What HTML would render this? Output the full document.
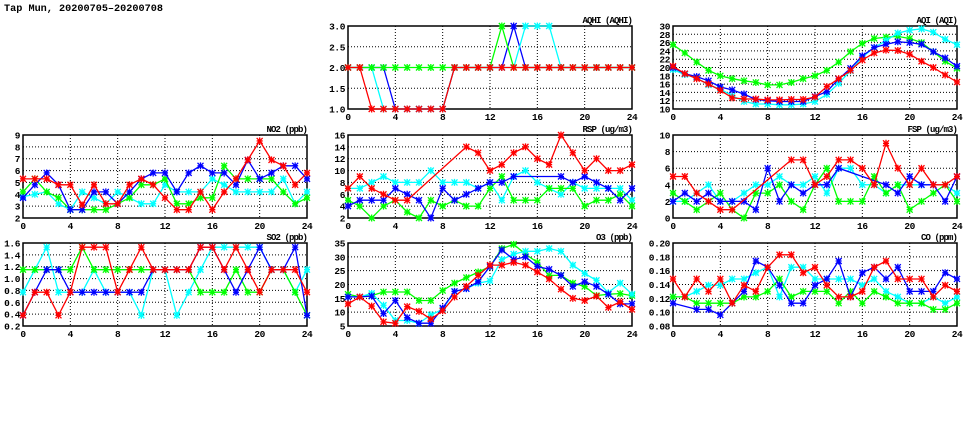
<!DOCTYPE html>
<html><head><meta charset="utf-8">
<style>
html,body{margin:0;padding:0;background:#fff;}
svg{display:block;font-family:"Liberation Mono","DejaVu Sans Mono",monospace;font-weight:bold;}
</style></head>
<body>
<svg id="chart" width="975" height="447" viewBox="0 0 975 447" xmlns="http://www.w3.org/2000/svg">
<text x="4" y="11" font-size="10.2">Tap Mun, 20200705–20200708</text>
</svg>
<script>
const hours = [0,1,2,3,4,5,6,7,8,9,10,11,12,13,14,15,16,17,18,19,20,21,22,23,24];
const xTicks = [0,4,8,12,16,20,24];
const N = null;

const aqhiBlue  = [2,2,2,2,1,1,1,1,1,2,2,2,2,2,3,2,2,2,2,2,2,2,2,2,2];
const aqhiCyan  = [2,2,2,1,1,1,1,1,1,2,2,2,2,2,2,3,3,3,2,2,2,2,2,2,2];
const aqhiGreen = [2,2,2,2,2,2,2,2,2,2,2,2,2,3,2,2,2,2,2,2,2,2,2,2,2];
const aqhiRed   = [2,2,1,1,1,1,1,1,1,2,2,2,2,2,2,2,2,2,2,2,2,2,2,2,2];
const aqhiTicks = [1.0,1.5,2.0,2.5,3.0];

const aqiBlue  = [20,18.5,17.8,16.8,15.3,14.6,13.6,12.3,12,11.8,11.8,11.8,13,14.2,17.2,19.8,22.8,24.8,25.6,26.2,26,25.6,23.8,22.3,20.3];
const aqiCyan  = [19.5,18.3,17.5,15.8,14.8,13.2,11.8,11.2,11.2,11,11,11.2,11.8,13.5,16.2,19.2,22.5,24.8,26.5,28.3,29,29.3,28.5,26.8,25.5];
const aqiGreen = [25.5,23.5,21.3,19.3,18,17.3,16.8,16.4,15.8,15.8,16.4,17.3,18,19.3,21.3,23.8,25.8,27,27.3,27.5,27,26,23.8,21.5,19.8];
const aqiRed   = [20.3,18.5,17.3,16,14.5,12.7,12.4,12.4,12.2,12.2,12.3,12.3,12.9,15.4,17.3,19.3,21.8,23.5,24.2,24.1,23.2,21.5,20,18.2,16.5];
const aqiTicks = [10,12,14,16,18,20,22,24,26,28,30];

const no2Blue  = [3.7,4.8,5.8,4.8,2.7,2.7,4.2,4.2,3.2,4.2,5.3,5.8,5.8,4.2,5.8,6.4,5.8,5.8,4.8,6.9,5.3,5.8,6.4,6.4,5.3];
const no2Cyan  = [3.8,4.0,4.2,3.2,2.7,4.2,3.7,3.2,4.2,3.7,3.2,3.2,4.8,4.2,4.2,4.2,5.3,4.8,4.2,4.2,4.2,4.2,5.3,3.2,4.2];
const no2Green = [4.2,5.3,4.2,3.7,2.7,2.7,2.7,2.7,3.2,3.7,4.8,4.8,5.3,3.2,3.2,3.7,3.7,6.4,5.3,5.3,5.3,5.3,4.2,3.2,3.7];
const no2Red   = [5.3,5.3,5.3,4.8,4.8,3.1,4.8,3.2,3.2,4.8,5.3,4.8,3.7,2.7,2.7,4.2,2.7,4.2,5.3,6.9,8.5,6.9,6.4,4.8,5.8];
const no2Ticks = [2,3,4,5,6,7,8,9];

const rspBlue  = [4,5,5,5,7,6,5,2,7,5,6,7,8,8,9,N,N,N,9,8,9,8,7,5,7];
const rspCyan  = [7,7,8,9,8,8,8,10,8,8,8,7,8,5,9,10,8,7,6,8,7,7,7,7,5];
const rspGreen = [5,4,2,4,5,3,2,5,4,5,4,4,7,9,5,5,5,7,7,7,4,5,5,6,4];
const rspRed   = [7,9,7,6,5,5,N,N,N,N,14,13,10,11,13,14,12,11,16,13,10,12,10,10,11];
const rspTicks = [2,4,6,8,10,12,14,16];

const fspBlue  = [2,3,2,3,2,2,2,1,6,2,4,3,4,4,6,N,N,N,4,3,5,4,4,2,5];
const fspCyan  = [2,2,3,4,2,2,3,4,4,5,4,4,5,3,6,6,4,4,3,4,4,4,4,4,3];
const fspGreen = [3,2,1,2,3,1,0,3,3,4,2,1,4,6,2,2,2,5,3,4,1,2,3,4,2];
const fspRed   = [5,5,3,2,1,1,N,N,N,N,7,7,4,5,7,7,6,4,9,6,4,6,4,4,5];
const fspTicks = [0,2,4,6,8,10];

const so2Blue  = [0.38,0.77,1.15,1.15,0.77,0.77,0.77,0.77,0.77,0.77,0.77,1.15,1.15,1.15,1.15,1.53,1.53,1.15,0.77,1.15,1.53,1.15,1.15,1.53,0.38];
const so2Cyan  = [0.77,1.15,1.53,0.77,0.77,0.77,1.15,0.77,0.77,0.77,0.38,1.15,1.15,0.38,0.77,1.15,1.53,1.53,1.53,1.53,1.53,1.15,1.15,0.77,1.15];
const so2Green = [1.15,1.15,1.15,1.15,1.15,1.53,1.15,1.15,1.15,1.15,1.15,1.15,1.15,1.15,1.15,0.77,0.77,0.77,1.15,0.77,0.77,1.15,1.15,0.77,0.38];
const so2Red   = [0.38,0.77,0.77,0.38,0.77,1.53,1.53,1.53,0.77,1.15,1.53,1.15,1.15,1.15,1.15,1.53,1.53,1.15,1.53,1.15,0.77,1.15,1.15,1.15,0.77];
const so2Ticks = [0.2,0.4,0.6,0.8,1.0,1.2,1.4,1.6];

const o3Blue  = [15.5,15.5,15.8,9.5,14.2,8,6,6,11.5,17.5,18.5,21,26.5,32.5,29,30,26.5,25.5,23.3,19.3,21,19.3,16.5,13,13];
const o3Cyan  = [15.5,15.5,16.8,12.5,7,7,6,9,11,17.5,18.5,20.5,21.3,29,31,32,32,33,32,27,24,21.5,17,20.5,16.5];
const o3Green = [16.5,15.5,16,17.3,17.3,17.3,14.2,14.2,17.8,20.5,22.5,24.5,26.5,33,34.5,31,28,23.3,23.3,20.5,19.3,16,16.5,16.7,16];
const o3Red   = [13,15.5,12.2,6.5,6,12,10.3,7.5,10.5,15.5,19.3,23.3,27,27,28,27,24.5,22,18.3,15,14.2,15.8,11.7,13.7,11];
const o3Ticks = [5,10,15,20,25,30,35];

const coBlue  = [.113,N,.104,.104,.096,.113,.13,.174,.165,.139,.113,.113,.139,.148,.174,.122,.157,.165,.148,.165,.13,.13,.13,.157,.148];
const coCyan  = [.122,.122,.13,.139,.139,.148,.148,.157,.165,.122,.165,.165,.148,.148,.148,.148,.139,.148,.13,.122,.113,.113,.122,.113,.122];
const coGreen = [.122,.122,.113,.113,.113,.113,.122,.122,.13,.148,.122,.13,.13,.13,.113,.13,.113,.13,.122,.113,.113,.113,.104,.104,.113];
const coRed   = [.148,.122,.148,.13,.148,.113,.139,.13,.165,.183,.183,.157,.165,.139,.122,.122,.13,.165,.174,.148,.148,.148,.122,.139,.13];
const coTicks = [0.08,0.10,0.12,0.14,0.16,0.18,0.20];

const panels = [
 {name:'aqhi', title:'AQHI (AQHI)', col:1, row:0, ticks:aqhiTicks, dec:1, series:[aqhiBlue,aqhiCyan,aqhiGreen,aqhiRed]},
 {name:'aqi', title:'AQI (AQI)', col:2, row:0, ticks:aqiTicks, dec:0, series:[aqiGreen,aqiCyan,aqiBlue,aqiRed]},
 {name:'no2', title:'NO2 (ppb)', col:0, row:1, ticks:no2Ticks, dec:0, series:[no2Cyan,no2Green,no2Blue,no2Red]},
 {name:'rsp', title:'RSP (ug/m3)', col:1, row:1, ticks:rspTicks, dec:0, series:[rspCyan,rspGreen,rspBlue,rspRed]},
 {name:'fsp', title:'FSP (ug/m3)', col:2, row:1, ticks:fspTicks, dec:0, series:[fspCyan,fspGreen,fspBlue,fspRed]},
 {name:'so2', title:'SO2 (ppb)', col:0, row:2, ticks:so2Ticks, dec:1, series:[so2Cyan,so2Green,so2Blue,so2Red]},
 {name:'o3', title:'O3 (ppb)', col:1, row:2, ticks:o3Ticks, dec:0, series:[o3Green,o3Cyan,o3Blue,o3Red]},
 {name:'co', title:'CO (ppm)', col:2, row:2, ticks:coTicks, dec:2, series:[coCyan,coGreen,coBlue,coRed]}
];
const colorOf = new Map([[aqhiBlue,'#0000ff'],[aqhiCyan,'#00ffff'],[aqhiGreen,'#00ff00'],[aqhiRed,'#ff0000'],
 [aqiBlue,'#0000ff'],[aqiCyan,'#00ffff'],[aqiGreen,'#00ff00'],[aqiRed,'#ff0000'],
 [no2Blue,'#0000ff'],[no2Cyan,'#00ffff'],[no2Green,'#00ff00'],[no2Red,'#ff0000'],
 [rspBlue,'#0000ff'],[rspCyan,'#00ffff'],[rspGreen,'#00ff00'],[rspRed,'#ff0000'],
 [fspBlue,'#0000ff'],[fspCyan,'#00ffff'],[fspGreen,'#00ff00'],[fspRed,'#ff0000'],
 [so2Blue,'#0000ff'],[so2Cyan,'#00ffff'],[so2Green,'#00ff00'],[so2Red,'#ff0000'],
 [o3Blue,'#0000ff'],[o3Cyan,'#00ffff'],[o3Green,'#00ff00'],[o3Red,'#ff0000'],
 [coBlue,'#0000ff'],[coCyan,'#00ffff'],[coGreen,'#00ff00'],[coRed,'#ff0000']]);
const colName = {'#0000ff':'blue','#00ffff':'cyan','#00ff00':'green','#ff0000':'red'};

const svg = document.getElementById('chart');
const NS = 'http://www.w3.org/2000/svg';
const colX = [23,348,673], rowY = [26,135,243], W = 284, H = 83;
function mk(tag, attrs, parent){const e=document.createElementNS(NS,tag);for(const k in attrs)e.setAttribute(k,attrs[k]);parent.appendChild(e);return e;}

panels.forEach(p=>{
  const x0=colX[p.col], y0=rowY[p.row];
  const lo=p.ticks[0], hi=p.ticks[p.ticks.length-1];
  const sx=v=>x0+v/24*W;
  const sy=v=>y0+H-(v-lo)/(hi-lo)*H;
  const g=mk('g',{},svg);
  
  
  p.ticks.forEach((t,i)=>{
    if(i>0&&i<p.ticks.length-1){
      const l=mk('line',{x1:x0,x2:x0+W,y1:sy(t),y2:sy(t),stroke:'#000','stroke-width':1,'stroke-dasharray':'1,2'},g);
      
      
    }
    const tx=mk('text',{x:x0-3,y:sy(t)+3.5,'font-size':9.5,'letter-spacing':-0.4,'text-anchor':'end'},g);
    
    
    tx.textContent=t.toFixed(p.dec);
  });
  xTicks.forEach((t,i)=>{
    if(i>0&&i<xTicks.length-1){
      const l=mk('line',{x1:sx(t),x2:sx(t),y1:y0,y2:y0+H,stroke:'#000','stroke-width':1,'stroke-dasharray':'1,2'},g);
      
      
    }
    const tx=mk('text',{x:sx(t),y:y0+H+11,'font-size':9.5,'letter-spacing':-0.4,'text-anchor':'middle'},g);
    
    
    tx.textContent=t;
  });
  const fr=mk('rect',{x:x0,y:y0,width:W,height:H,fill:'none',stroke:'#000','stroke-width':1.5},g);
  
  
  const ti=mk('text',{x:x0+W,y:y0-3,'font-size':9,'letter-spacing':-0.9,'text-anchor':'end'},g);
  
  
  ti.textContent=p.title;
  p.series.forEach(arr=>{
    const c=colorOf.get(arr);
    const pts=[];
    arr.forEach((v,i)=>{if(v!==null)pts.push([sx(hours[i]),sy(v)]);});
    const pl=mk('polyline',{points:pts.map(q=>q[0].toFixed(1)+','+q[1].toFixed(1)).join(' '),fill:'none',stroke:c,'stroke-width':1.3},g);
    
    
    pts.forEach(q=>{
      const m=mk('path',{d:`M${q[0]-3},${q[1]-3}L${q[0]+3},${q[1]+3}M${q[0]-3},${q[1]+3}L${q[0]+3},${q[1]-3}M${q[0]},${q[1]-3.5}V${q[1]+3.5}M${q[0]-3},${q[1]}H${q[0]+3}`,stroke:c,'stroke-width':1.3,fill:'none'},g);
      
      
    });
  });
});
</script>
</body></html>
